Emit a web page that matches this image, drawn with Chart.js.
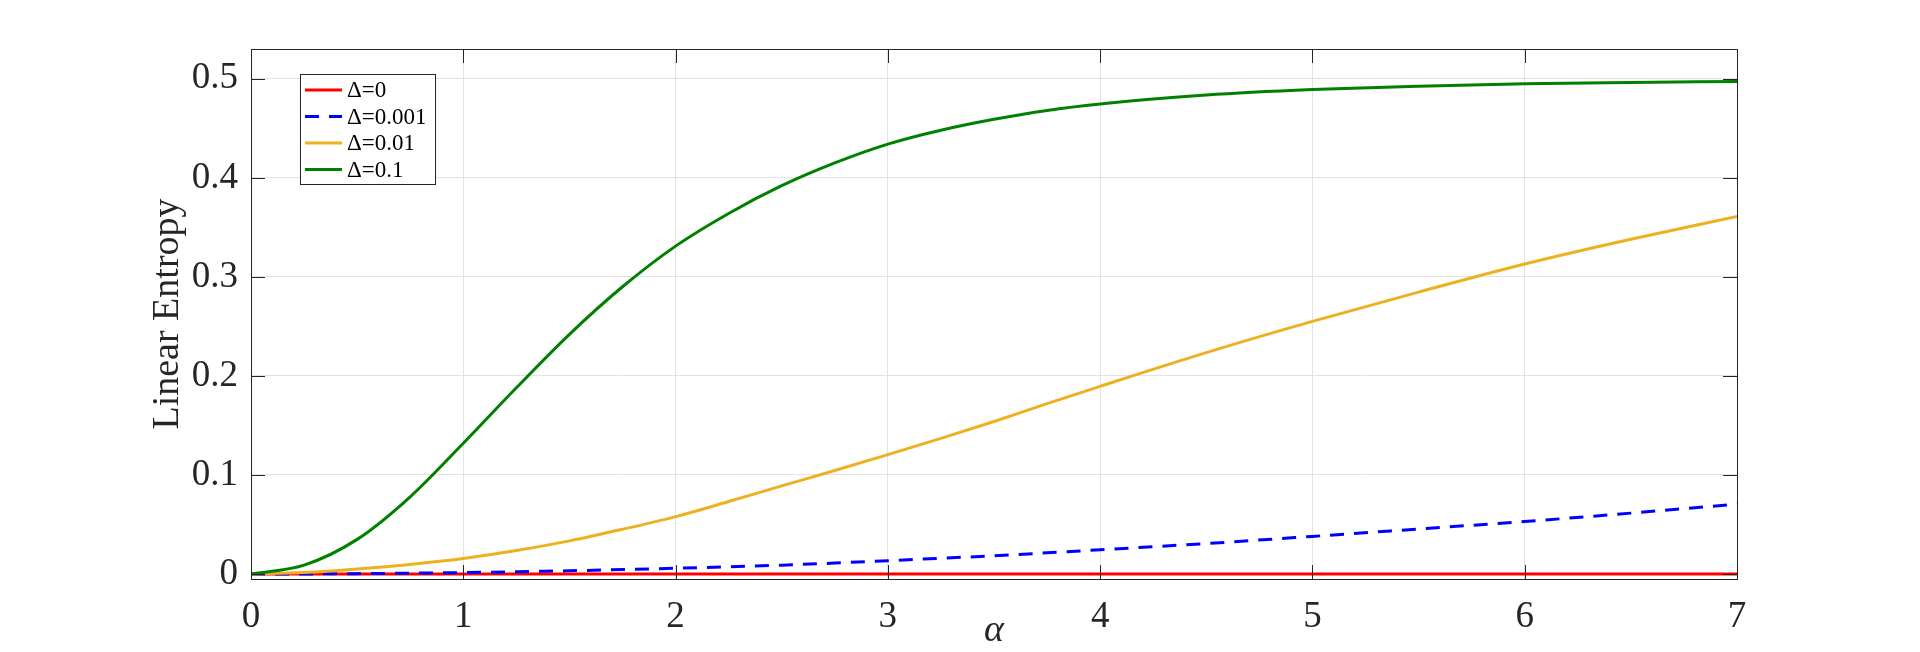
<!DOCTYPE html>
<html>
<head>
<meta charset="utf-8">
<script src="https://cdn.jsdelivr.net/npm/chart.js@4/dist/chart.umd.min.js"></script>
<style>
  html, body { margin: 0; padding: 0; background: #fff; }
  canvas { display: block; }
</style>
</head>
<body>
<canvas id="grafico" width="1920" height="652"></canvas>
<script>
// valores
const alpha = [0, 0.25, 0.5, 0.75, 1, 1.25, 1.5, 1.75, 2, 2.25, 2.5, 2.75, 3, 3.25, 3.5, 3.75, 4, 4.5, 5, 5.5, 6, 6.5, 7];
const delta0    = [0, 0, 0, 0, 0, 0, 0, 0, 0, 0, 0, 0, 0, 0, 0, 0, 0, 0, 0, 0, 0, 0, 0];
const delta0001 = [0, 0.0001, 0.0004, 0.0009, 0.0015, 0.0023, 0.0033, 0.0045, 0.0058, 0.0073, 0.009, 0.0111, 0.0135, 0.0159, 0.0185, 0.0214, 0.0245, 0.0308, 0.038, 0.0455, 0.053, 0.0615, 0.0705];
const delta001  = [0, 0.0015, 0.005, 0.0097, 0.0157, 0.0237, 0.0335, 0.0452, 0.058, 0.0732, 0.089, 0.1045, 0.1205, 0.137, 0.154, 0.172, 0.1895, 0.2235, 0.255, 0.2846, 0.313, 0.338, 0.361];
const delta01   = [0, 0.009, 0.035, 0.078, 0.132, 0.188, 0.242, 0.290, 0.331, 0.364, 0.392, 0.415, 0.434, 0.448, 0.459, 0.468, 0.4745, 0.4835, 0.489, 0.4925, 0.495, 0.4963, 0.4973];

const xTicks = [0, 1, 2, 3, 4, 5, 6, 7];
const yTicks = [0, 0.1, 0.2, 0.3, 0.4, 0.5];
const etiquetas = ['\u0394=0', '\u0394=0.001', '\u0394=0.01', '\u0394=0.1'];

const colorEje = '#262626';
const fuente = 'Liberation Serif, Times New Roman, serif';

function puntos(serie) {
    return alpha.map((a, i) => ({ x: a, y: serie[i] }));
}

// marcas hacia adentro en los cuatro lados y caja del eje
const cajaEjes = {
    id: 'cajaEjes',
    afterDatasetsDraw(chart) {
        const { ctx, chartArea: a, scales } = chart;
        const largo = 14;
        ctx.save();
        ctx.strokeStyle = colorEje;
        ctx.lineWidth = 1;
        ctx.beginPath();
        xTicks.forEach(v => {
            const px = Math.round(scales.x.getPixelForValue(v)) + 0.5;
            ctx.moveTo(px, a.bottom); ctx.lineTo(px, a.bottom - largo);
            ctx.moveTo(px, a.top); ctx.lineTo(px, a.top + largo);
        });
        yTicks.forEach(v => {
            const py = Math.round(scales.y.getPixelForValue(v)) + 0.5;
            ctx.moveTo(a.left, py); ctx.lineTo(a.left + largo, py);
            ctx.moveTo(a.right, py); ctx.lineTo(a.right - largo, py);
        });
        ctx.stroke();
        ctx.strokeRect(Math.round(a.left) + 0.5, Math.round(a.top) + 0.5,
            Math.round(a.right - a.left), Math.round(a.bottom - a.top));
        ctx.restore();
    }
};

// leyenda dentro del area del grafico, arriba a la izquierda
const leyendaInterna = {
    id: 'leyendaInterna',
    afterDraw(chart) {
        const { ctx, chartArea: a } = chart;
        const x0 = a.left + 49, y0 = a.top + 25, ancho = 135, alto = 110, fila = 26.5;
        ctx.save();
        ctx.fillStyle = '#fff';
        ctx.fillRect(x0, y0, ancho, alto);
        ctx.strokeStyle = colorEje;
        ctx.lineWidth = 1;
        ctx.strokeRect(x0 + 0.5, y0 + 0.5, ancho, alto);
        ctx.font = '23px ' + fuente;
        ctx.textBaseline = 'middle';
        chart.data.datasets.forEach((ds, i) => {
            const y = y0 + 16 + i * fila;
            ctx.strokeStyle = ds.borderColor;
            ctx.lineWidth = 3;
            ctx.setLineDash(ds.borderDash || []);
            ctx.beginPath();
            ctx.moveTo(x0 + 5, y); ctx.lineTo(x0 + 42, y);
            ctx.stroke();
            ctx.setLineDash([]);
            ctx.fillStyle = '#000';
            ctx.fillText(ds.label, x0 + 47, y + 1);
        });
        ctx.restore();
    }
};

const ctx = document.getElementById('grafico').getContext('2d');
new Chart(ctx, {
    type: 'line',
    data: {
        datasets: [
            { label: etiquetas[0], data: puntos(delta0), borderColor: '#ff0000', order: 4 },
            { label: etiquetas[1], data: puntos(delta0001), borderColor: '#0000ff', borderDash: [14, 10], order: 3 },
            { label: etiquetas[2], data: puntos(delta001), borderColor: '#edb120', order: 2 },
            { label: etiquetas[3], data: puntos(delta01), borderColor: '#008000', order: 1 }
        ].map(ds => Object.assign(ds, {
            borderWidth: 3,
            pointRadius: 0,
            fill: false,
            cubicInterpolationMode: 'monotone'
        }))
    },
    options: {
        responsive: false,
        animation: false,
        layout: { padding: { left: 0, top: 49, right: 183, bottom: 0 } },
        scales: {
            x: {
                type: 'linear',
                min: 0,
                max: 7,
                afterBuildTicks: s => { s.ticks = xTicks.map(v => ({ value: v })); },
                afterFit: s => { s.height = 73; },
                ticks: {
                    color: colorEje,
                    padding: 16,
                    font: { family: fuente, size: 37 },
                    maxRotation: 0,
                    callback: v => String(v)
                },
                grid: { color: '#e3e3e3', drawTicks: false },
                border: { display: false },
                title: {
                    display: true,
                    text: '\u03b1',
                    color: colorEje,
                    padding: { top: 0, bottom: -2 },
                    font: { family: fuente, size: 38, style: 'italic' }
                }
            },
            y: {
                type: 'linear',
                min: -0.005,
                max: 0.53,
                afterBuildTicks: s => { s.ticks = yTicks.map(v => ({ value: v })); },
                afterFit: s => { s.width = 251; },
                ticks: {
                    color: colorEje,
                    padding: 13,
                    font: { family: fuente, size: 37 },
                    callback: v => String(Number(v.toFixed(2)))
                },
                grid: { color: '#e3e3e3', drawTicks: false },
                border: { display: false },
                title: {
                    display: true,
                    text: 'Linear Entropy',
                    color: colorEje,
                    padding: { top: 145, bottom: 0 },
                    font: { family: fuente, size: 38 }
                }
            }
        },
        plugins: {
            legend: { display: false },
            tooltip: { enabled: false }
        }
    },
    plugins: [cajaEjes, leyendaInterna]
});
</script>
</body>
</html>
